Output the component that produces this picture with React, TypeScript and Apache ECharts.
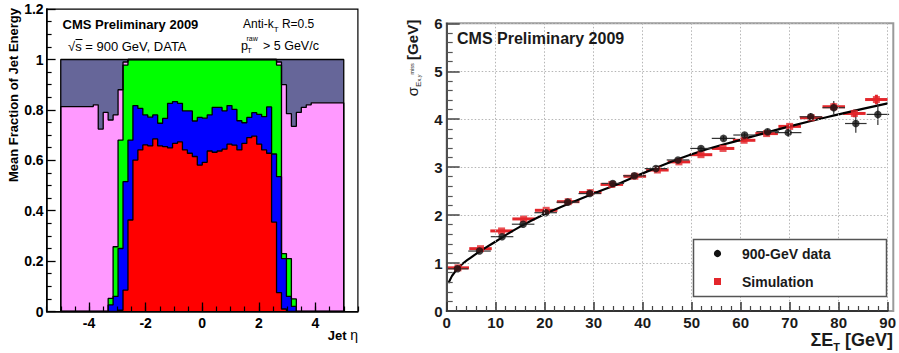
import React, { useEffect, useRef } from "react";
import * as echarts from "echarts";

// ---------- Left panel: mean fraction of jet energy vs jet eta ----------
const etaEdges = [
  -5, -3.85, -3.675, -3.5, -3.325, -3.15, -2.975, -2.8, -2.625,
  -2.45, -2.275, -2.1, -1.925, -1.75, -1.575, -1.4, -1.225, -1.05, -0.875, -0.7, -0.525, -0.35, -0.175,
  0, 0.175, 0.35, 0.525, 0.7, 0.875, 1.05, 1.225, 1.4, 1.575, 1.75, 1.925, 2.1, 2.275, 2.45,
  2.625, 2.8, 2.975, 3.15, 3.325, 3.5, 3.675, 3.85, 5,
];
// cumulative top of each layer, one value per bin
const redTop = [
  0, 0, 0, 0, 0, 0, 0.005, 0.085, 0.363,
  0.601, 0.641, 0.661, 0.657, 0.685, 0.657, 0.654, 0.649, 0.667, 0.673, 0.641, 0.628, 0.615, 0.581,
  0.592, 0.637, 0.632, 0.637, 0.644, 0.664, 0.66, 0.641, 0.667, 0.69, 0.696, 0.664, 0.641, 0.628,
  0.355, 0.075, 0.01, 0, 0, 0, 0, 0, 0,
];
const blueTop = [
  0, 0, 0, 0, 0.026, 0.06, 0.25, 0.515, 0.68,
  0.817, 0.806, 0.78, 0.771, 0.78, 0.747, 0.766, 0.826, 0.833, 0.826, 0.796, 0.796, 0.756, 0.77,
  0.767, 0.78, 0.81, 0.81, 0.796, 0.817, 0.802, 0.757, 0.749, 0.77, 0.789, 0.782, 0.773, 0.812,
  0.625, 0.535, 0.21, 0.06, 0.02, 0, 0, 0, 0,
];
const greenTop = [
  0, 0, 0, 0, 0.052, 0.257, 0.68, 0.978, 1,
  1, 1, 1, 1, 1, 1, 1, 1, 1, 1, 1, 1, 1, 1,
  1, 1, 1, 1, 1, 1, 1, 1, 1, 1, 1, 1, 1, 1,
  1, 0.978, 0.23, 0.21, 0.05, 0, 0, 0, 0,
];
const pinkTop = [
  0.813, 0.82, 0.724, 0.79, 0.76, 0.78, 0.88, 0.99, 1,
  1, 1, 1, 1, 1, 1, 1, 1, 1, 1, 1, 1, 1, 1,
  1, 1, 1, 1, 1, 1, 1, 1, 1, 1, 1, 1, 1, 1,
  1, 0.99, 0.9, 0.785, 0.735, 0.79, 0.81, 0.82, 0.828,
];
const greyTop = [
  1, 1, 1, 1, 1, 1, 1, 1, 1,
  1, 1, 1, 1, 1, 1, 1, 1, 1, 1, 1, 1, 1, 1,
  1, 1, 1, 1, 1, 1, 1, 1, 1, 1, 1, 1, 1, 1,
  1, 1, 1, 1, 1, 1, 1, 1, 1,
];
const etaMajorTicks = [-4, -2, 0, 2, 4];

// ---------- Right panel: MET resolution vs sum ET ----------
const dataX = [2.2, 6.7, 11.3, 15.6, 20.2, 24.7, 29.2, 33.9, 38.3, 42.7, 47.2, 51.9, 56.5, 60.8, 65.5, 69.7, 74.3, 79, 83.5, 88];
const dataY = [0.88, 1.25, 1.55, 1.81, 2.05, 2.27, 2.45, 2.66, 2.82, 2.97, 3.15, 3.39, 3.6, 3.67, 3.74, 3.72, 4.05, 4.24, 3.91, 4.1];
const dataErrX = [2.2, 2.3, 2.3, 2.3, 2.3, 2.3, 2.3, 2.3, 2.3, 2.3, 2.3, 2.2, 2.4, 2.3, 2.3, 2.7, 2.3, 2.3, 2.2, 2.3];
const dataErrY = [0.02, 0.02, 0.02, 0.02, 0.02, 0.02, 0.02, 0.03, 0.03, 0.03, 0.04, 0.04, 0.05, 0.05, 0.06, 0.08, 0.08, 0.14, 0.19, 0.22];
const simX = [2.3, 6.9, 11.2, 15.7, 20.3, 24.8, 29.3, 33.7, 38.4, 43.0, 47.4, 51.9, 56.4, 60.7, 65.3, 70.0, 74.4, 79.0, 83.2, 87.7];
const simY = [0.9, 1.3, 1.67, 1.92, 2.1, 2.28, 2.47, 2.64, 2.81, 2.94, 3.11, 3.26, 3.39, 3.56, 3.7, 3.85, 4.03, 4.26, 4.12, 4.41];
const simErrX = [2.25, 2.3, 2.3, 2.3, 2.3, 2.3, 2.3, 2.3, 2.3, 2.3, 2.3, 2.3, 2.3, 2.3, 2.3, 2.3, 2.3, 2.3, 2.3, 2.3];
const simErrY = [0.02, 0.02, 0.02, 0.02, 0.02, 0.02, 0.02, 0.02, 0.03, 0.03, 0.03, 0.03, 0.03, 0.04, 0.04, 0.05, 0.05, 0.08, 0.08, 0.1];
const fitX = [0.35, 2, 5, 10, 15, 20, 25, 30, 35, 40, 50, 60, 70, 80, 90];
const fitY = [0.58, 0.86, 1.12, 1.45, 1.76, 2.02, 2.24, 2.45, 2.65, 2.87, 3.27, 3.57, 3.85, 4.1, 4.33];

const FONT = '"Liberation Sans", Arial, sans-serif';
const LG = { left: 46.6, top: 9.1, width: 311.3, height: 302.4 };
const RG = { left: 446.7, top: 23.3, width: 446.6, height: 287.7 };

function stepPoints(edges: number[], vals: number[]) {
  const pts: number[][] = [[edges[0], 0]];
  vals.forEach((v, i) => pts.push([edges[i], v]));
  pts.push([edges[edges.length - 1], vals[vals.length - 1]]);
  pts.push([edges[edges.length - 1], 0]);
  return pts;
}

function histSeries(vals: number[], color: string) {
  return {
    type: "line",
    xAxisIndex: 0,
    yAxisIndex: 0,
    step: "end",
    symbol: "none",
    silent: true,
    data: stepPoints(etaEdges, vals),
    lineStyle: { color: "#000", width: 1.3 },
    areaStyle: { color, opacity: 1 },
  };
}

function errRender(color: string, width: number) {
  return (params: any, api: any) => {
    const x = api.value(0), y = api.value(1), ex = api.value(2), ey = api.value(3);
    const a = api.coord([x - ex, y]);
    const b = api.coord([x + ex, y]);
    const c = api.coord([x, y - ey]);
    const d = api.coord([x, y + ey]);
    return {
      type: "group",
      children: [
        { type: "line", shape: { x1: a[0], y1: a[1], x2: b[0], y2: b[1] }, style: { stroke: color, lineWidth: width } },
        { type: "line", shape: { x1: c[0], y1: c[1], x2: d[0], y2: d[1] }, style: { stroke: color, lineWidth: width } },
      ],
    };
  };
}

export default function App() {
  const ref = useRef<HTMLDivElement>(null);
  useEffect(() => {
    const chart = echarts.init(ref.current!, null, { renderer: "svg" });
    const darkTxt = "#1a1a1a";
    const option: any = {
      animation: false,
      backgroundColor: "#fff",
      textStyle: { fontFamily: FONT },
      grid: [
        { left: LG.left, top: LG.top, width: LG.width, height: LG.height },
        { left: RG.left, top: RG.top, width: RG.width, height: RG.height },
      ],
      xAxis: [
        {
          type: "value", gridIndex: 0, min: -5.5, max: 5.5, z: 10,
          axisLine: { show: true, onZero: false, lineStyle: { color: "#000", width: 1.5 } },
          axisTick: { show: true, inside: true, length: 9, customValues: etaMajorTicks, lineStyle: { color: "#000", width: 1.3 } },
          axisLabel: { customValues: etaMajorTicks, fontWeight: "bold", fontSize: 14, color: "#000", margin: 4, fontFamily: FONT },
          splitLine: { show: false },
        },
        {
          type: "value", gridIndex: 0, min: -5.5, max: 5.5, interval: 0.5, position: "bottom", offset: 0, z: 10,
          axisLine: { show: false, onZero: false },
          axisTick: { show: true, inside: true, length: 5, lineStyle: { color: "#000", width: 1.2 } },
          axisLabel: { show: false },
          splitLine: { show: false },
        },
        {
          type: "value", gridIndex: 1, min: 0, max: 90, interval: 10, z: 10,
          axisLine: { show: true, onZero: false, lineStyle: { color: "#333", width: 1.8 } },
          axisTick: { show: true, inside: true, length: 9, lineStyle: { color: "#333", width: 1.5 } },
          minorTick: { show: true, splitNumber: 5, length: 5, lineStyle: { color: "#444", width: 1.2 } },
          axisLabel: { fontWeight: "bold", fontSize: 15, color: darkTxt, margin: 4, fontFamily: FONT },
          splitLine: { show: true, lineStyle: { color: "#b5b5b5", width: 1, type: [1.5, 2] } },
        },
      ],
      yAxis: [
        {
          type: "value", gridIndex: 0, min: 0, max: 1.2, interval: 0.2, z: 10,
          axisLine: { show: true, onZero: false, lineStyle: { color: "#000", width: 1.5 } },
          axisTick: { show: true, inside: true, length: 9, lineStyle: { color: "#000", width: 1.3 } },
          minorTick: { show: true, splitNumber: 4, length: 5, lineStyle: { color: "#000", width: 1.2 } },
          axisLabel: { fontWeight: "bold", fontSize: 14, color: "#000", margin: 3, fontFamily: FONT },
          splitLine: { show: false },
        },
        {
          type: "value", gridIndex: 1, min: 0, max: 6, interval: 1, z: 10,
          axisLine: { show: true, onZero: false, lineStyle: { color: "#444", width: 1.8 } },
          axisTick: { show: true, inside: true, length: 13, lineStyle: { color: "#444", width: 1.5 } },
          minorTick: { show: true, splitNumber: 5, length: 6, lineStyle: { color: "#555", width: 1.2 } },
          axisLabel: { fontWeight: "bold", fontSize: 15, color: darkTxt, margin: 4, fontFamily: FONT },
          splitLine: { show: true, lineStyle: { color: "#b5b5b5", width: 1, type: [1.5, 2] } },
        },
      ],
      series: [
        histSeries(greyTop, "#666699"),
        histSeries(pinkTop, "#ff99ff"),
        histSeries(greenTop, "#00ff00"),
        histSeries(blueTop, "#0000ff"),
        histSeries(redTop, "#ff0000"),
        {
          type: "custom", xAxisIndex: 2, yAxisIndex: 1, silent: true, clip: false,
          renderItem: errRender("#e3262b", 3),
          encode: { x: 0, y: 1 },
          data: simX.map((x, i) => [x, simY[i], simErrX[i], simErrY[i]]),
          z: 3,
        },
        {
          type: "line", xAxisIndex: 2, yAxisIndex: 1, smooth: true, symbol: "none", silent: true,
          data: fitX.map((x, i) => [x, fitY[i]]),
          lineStyle: { color: "#000", width: 2.2 },
          z: 4,
        },
        {
          type: "custom", xAxisIndex: 2, yAxisIndex: 1, silent: true, clip: false,
          renderItem: errRender("#333", 1.2),
          encode: { x: 0, y: 1 },
          data: dataX.map((x, i) => [x, dataY[i], dataErrX[i], dataErrY[i]]),
          z: 5,
        },
        {
          type: "scatter", xAxisIndex: 2, yAxisIndex: 1, symbol: "rect", symbolSize: 7, silent: true,
          itemStyle: { color: "#e3262b" },
          data: simX.map((x, i) => [x, simY[i]]),
          z: 6,
        },
        {
          type: "scatter", xAxisIndex: 2, yAxisIndex: 1, symbol: "circle", symbolSize: 7.5, silent: true,
          itemStyle: { color: "#111" },
          data: dataX.map((x, i) => [x, dataY[i]]),
          z: 7,
        },
      ],
      graphic: {
        elements: [
          // left frame
          { type: "rect", z: 60, silent: true, shape: { x: LG.left, y: LG.top, width: LG.width, height: LG.height }, style: { fill: "none", stroke: "#000", lineWidth: 1.2 } },
          // right frame
          { type: "rect", z: 1, silent: true, shape: { x: RG.left, y: RG.top, width: RG.width, height: RG.height }, style: { fill: "none", stroke: "#9a9a9a", lineWidth: 2 } },
          // left texts
          { type: "text", z: 70, x: 62.5, y: 24, style: { text: "CMS Preliminary 2009", font: `bold 13px ${FONT}`, fill: "#000", align: "left", verticalAlign: "middle" } },
          { type: "text", z: 70, x: 68, y: 46, style: { text: "√s = 900 GeV, DATA", font: `13px ${FONT}`, fill: "#000", align: "left", verticalAlign: "middle" } },
          { type: "line", z: 70, shape: { x1: 75.5, y1: 39.5, x2: 82.5, y2: 39.5 }, style: { stroke: "#000", lineWidth: 1 } },
          {
            type: "text", z: 70, x: 243, y: 24,
            style: {
              text: "{n|Anti-k}{s|T}{n| R=0.5}", align: "left", verticalAlign: "middle",
              rich: {
                n: { fontSize: 12, fontFamily: FONT, fill: "#000", lineHeight: 18, verticalAlign: "middle" },
                s: { fontSize: 8, fontFamily: FONT, fill: "#000", lineHeight: 18, verticalAlign: "bottom" },
              },
            },
          },
          { type: "text", z: 70, x: 241, y: 46, style: { text: "p", font: `12.5px ${FONT}`, fill: "#000", align: "left", verticalAlign: "middle" } },
          { type: "text", z: 70, x: 246.5, y: 38, style: { text: "raw", font: `7px ${FONT}`, fill: "#000", align: "left", verticalAlign: "middle" } },
          { type: "text", z: 70, x: 247, y: 50.5, style: { text: "T", font: `8px ${FONT}`, fill: "#000", align: "left", verticalAlign: "middle" } },
          { type: "text", z: 70, x: 263, y: 46, style: { text: "> 5 GeV/c", font: `12.5px ${FONT}`, fill: "#000", align: "left", verticalAlign: "middle" } },
          { type: "text", z: 70, x: 13, y: 8, rotation: Math.PI / 2, style: { text: "Mean Fraction of Jet Energy", font: `bold 13px ${FONT}`, fill: "#000", align: "right", verticalAlign: "middle" } },
          {
            type: "text", z: 70, x: 358, y: 335,
            style: {
              text: "{b|Jet }{g|η}", align: "right", verticalAlign: "middle",
              rich: {
                b: { fontSize: 13, fontWeight: "bold", fontFamily: FONT, fill: "#000" },
                g: { fontSize: 14, fontFamily: FONT, fill: "#000" },
              },
            },
          },
          // right texts
          { type: "text", z: 70, x: 457, y: 38.5, style: { text: "CMS Preliminary 2009", font: `bold 16px ${FONT}`, fill: darkTxt, align: "left", verticalAlign: "middle" } },
          {
            type: "text", z: 70, x: 412, y: 58, rotation: Math.PI / 2,
            style: {
              text: "{sig|σ}{e|E}{sub|x,y}{sup|miss} {b|[GeV]}", align: "center", verticalAlign: "middle",
              rich: {
                sig: { fontSize: 15, fontFamily: FONT, fill: darkTxt, lineHeight: 20, verticalAlign: "middle" },
                e: { fontSize: 8, fontFamily: FONT, fill: darkTxt, lineHeight: 20, verticalAlign: "bottom" },
                sub: { fontSize: 5.5, fontFamily: FONT, fill: darkTxt, lineHeight: 20, verticalAlign: "bottom" },
                sup: { fontSize: 5.5, fontFamily: FONT, fill: darkTxt, lineHeight: 20, verticalAlign: "middle" },
                b: { fontSize: 15, fontWeight: "bold", fontFamily: FONT, fill: darkTxt, lineHeight: 20, verticalAlign: "middle" },
              },
            },
          },
          {
            type: "text", z: 70, x: 893, y: 340,
            style: {
              text: "{b|ΣE}{s|T}{b| [GeV]}", align: "right", verticalAlign: "middle",
              rich: {
                b: { fontSize: 18, fontWeight: "bold", fontFamily: FONT, fill: darkTxt, lineHeight: 24, verticalAlign: "middle" },
                s: { fontSize: 11, fontWeight: "bold", fontFamily: FONT, fill: darkTxt, lineHeight: 24, verticalAlign: "bottom" },
              },
            },
          },
          // legend
          { type: "rect", z: 80, silent: true, shape: { x: 693.5, y: 239.5, width: 193, height: 57 }, style: { fill: "#fff", stroke: "#555", lineWidth: 1.5 } },
          { type: "circle", z: 81, silent: true, shape: { cx: 717.5, cy: 253.5, r: 3.6 }, style: { fill: "#111" } },
          { type: "rect", z: 81, silent: true, shape: { x: 714, y: 278, width: 7, height: 7 }, style: { fill: "#e3262b" } },
          { type: "text", z: 81, x: 742, y: 253.5, style: { text: "900-GeV data", font: `bold 14px ${FONT}`, fill: darkTxt, align: "left", verticalAlign: "middle" } },
          { type: "text", z: 81, x: 742, y: 281.5, style: { text: "Simulation", font: `bold 14px ${FONT}`, fill: darkTxt, align: "left", verticalAlign: "middle" } },
        ],
      },
    };
    chart.setOption(option);
    return () => chart.dispose();
  }, []);
  return (
    <div
      ref={ref}
      style={{ position: "fixed", left: 0, top: 0, width: 899, height: 353, background: "#fff" }}
    />
  );
}
